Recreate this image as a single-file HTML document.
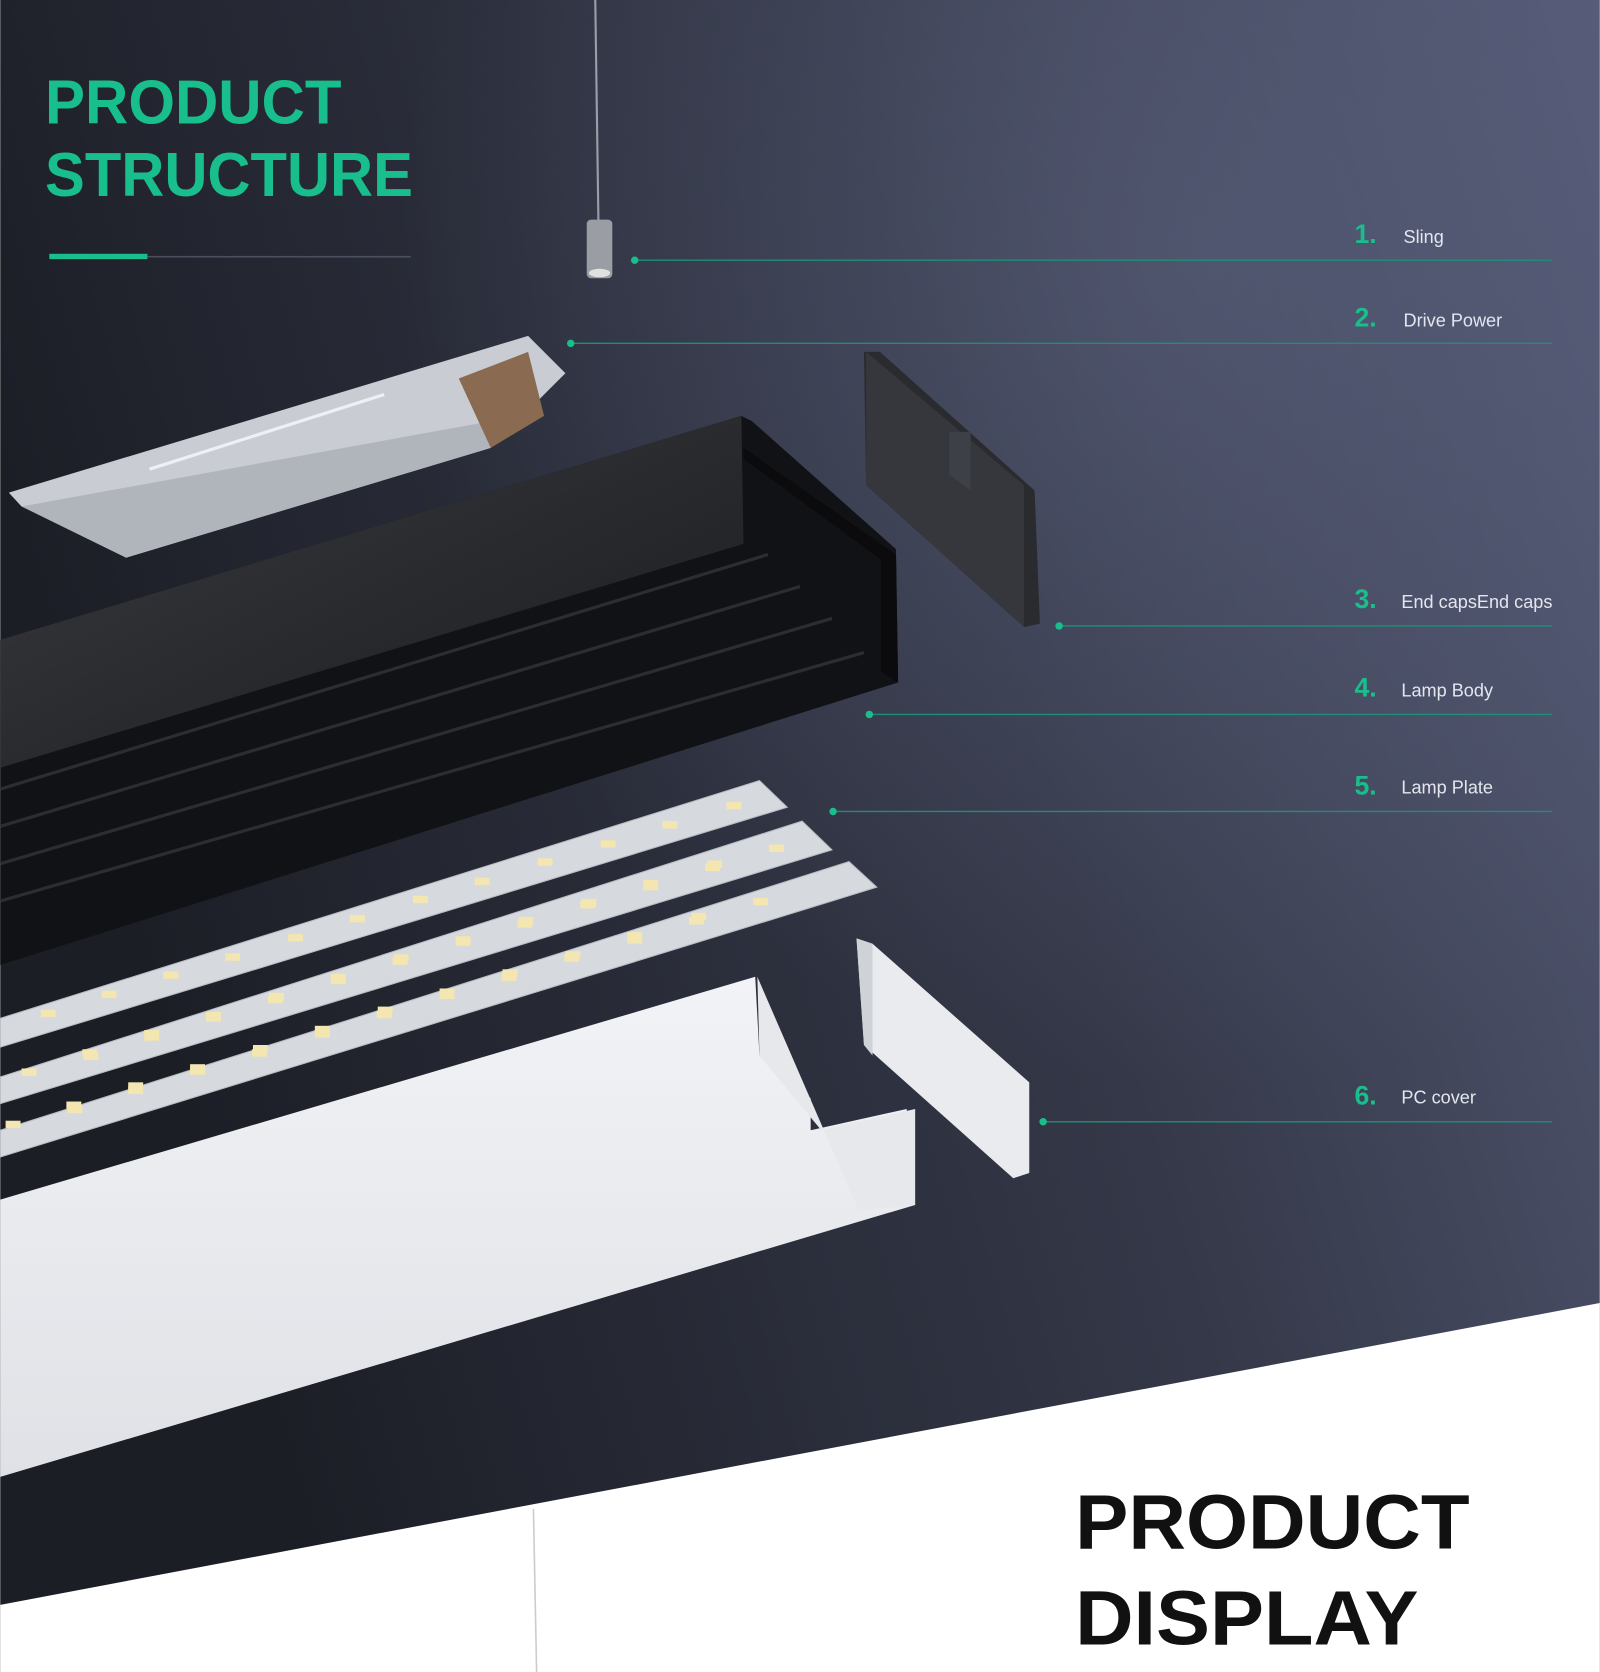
<!DOCTYPE html>
<html><head><meta charset="utf-8"><style>
html,body{margin:0;padding:0;background:#fff;}
svg{display:block;}
</style></head><body>
<svg width="1600" height="1672" viewBox="0 0 1500 1568" xmlns="http://www.w3.org/2000/svg" font-family="Liberation Sans, sans-serif">
<defs>
<linearGradient id="bg" x1="0" y1="0.3" x2="1" y2="0">
<stop offset="0" stop-color="#1c1e26"/><stop offset="0.55" stop-color="#343848"/><stop offset="1" stop-color="#565c78"/>
</linearGradient>
<radialGradient id="glow" cx="0.75" cy="0.15" r="0.5">
<stop offset="0" stop-color="#5a607c" stop-opacity="0.6"/><stop offset="1" stop-color="#5a607c" stop-opacity="0"/>
</radialGradient>
<linearGradient id="cover" x1="0" y1="0" x2="0" y2="1">
<stop offset="0" stop-color="#f2f3f6"/><stop offset="1" stop-color="#dfe1e6"/>
</linearGradient>
<linearGradient id="body" x1="0" y1="0" x2="1" y2="1">
<stop offset="0" stop-color="#3a3b40"/><stop offset="1" stop-color="#1a1b1e"/>
</linearGradient>
</defs>
<rect width="1500" height="1568" fill="url(#bg)"/>
<rect width="1500" height="1568" fill="url(#glow)"/>
<polygon points="0,1505 1500,1222 1500,1568 0,1568" fill="#ffffff"/>

<text x="42" y="116" font-size="58" font-weight="bold" fill="#18bf8c" textLength="278" lengthAdjust="spacingAndGlyphs">PRODUCT</text>
<text x="42" y="184" font-size="58" font-weight="bold" fill="#18bf8c" textLength="345" lengthAdjust="spacingAndGlyphs">STRUCTURE</text>
<rect x="46" y="238" width="92" height="5" fill="#18bf8c"/>
<rect x="138" y="240" width="247" height="1.5" fill="#4a5060"/>

<!-- sling -->
<line x1="558" y1="0" x2="561" y2="210" stroke="#9a9ea8" stroke-width="2"/>
<rect x="550" y="206" width="24" height="55" rx="4" fill="#9a9da3"/>
<ellipse cx="562" cy="256" rx="10" ry="4" fill="#e0e0e0"/>
<line x1="500" y1="1415" x2="503" y2="1568" stroke="#ccc" stroke-width="1.5"/>

<!-- labels -->
<g stroke="#1d8f78" stroke-width="1.3">
<line x1="595" y1="244" x2="1455" y2="244"/>
<line x1="535" y1="322" x2="1455" y2="322"/>
<line x1="993" y1="587" x2="1455" y2="587"/>
<line x1="815" y1="670" x2="1455" y2="670"/>
<line x1="781" y1="761" x2="1455" y2="761"/>
<line x1="978" y1="1052" x2="1455" y2="1052"/>
</g>
<g fill="#18bf8c">
<circle cx="595" cy="244" r="3.5"/><circle cx="535" cy="322" r="3.5"/><circle cx="993" cy="587" r="3.5"/>
<circle cx="815" cy="670" r="3.5"/><circle cx="781" cy="761" r="3.5"/><circle cx="978" cy="1052" r="3.5"/>
</g>
<g font-size="25" font-weight="bold" fill="#18bf8c">
<text x="1270" y="228">1.</text><text x="1270" y="306">2.</text><text x="1270" y="570">3.</text>
<text x="1270" y="653">4.</text><text x="1270" y="745">5.</text><text x="1270" y="1036">6.</text>
</g>
<g font-size="17" fill="#e4e6ee">
<text x="1316" y="228">Sling</text><text x="1316" y="306">Drive Power</text><text x="1314" y="570">End capsEnd caps</text>
<text x="1314" y="653">Lamp Body</text><text x="1314" y="744">Lamp Plate</text><text x="1314" y="1035">PC cover</text>
</g>

<!-- driver -->
<polygon points="8,462 495,315 530,350 460,420 118,523 95,500 20,475" fill="#c9ccd2"/>
<polygon points="20,475 460,395 460,420 118,523" fill="#b0b4bb"/>
<polygon points="430,355 495,330 510,390 460,420" fill="#8a6a50"/>
<line x1="140" y1="440" x2="360" y2="370" stroke="#eef0f3" stroke-width="3"/>

<!-- end cap black -->
<polygon points="810,330 825,330 970,460 975,585 960,588 812,455" fill="#2a2b2f"/>
<polygon points="812,330 960,455 960,588 812,455" fill="#36373c"/>
<polygon points="890,405 910,405 910,460 890,445" fill="#3e4048"/>

<!-- lamp body -->
<polygon points="0,600 695,390 705,395 840,515 842,640 0,905" fill="#111215"/>
<polygon points="0,600 695,390 697,510 0,720" fill="url(#body)"/>
<g stroke="#2c2d32" stroke-width="3">
<line x1="0" y1="740" x2="720" y2="520"/>
<line x1="0" y1="775" x2="750" y2="550"/>
<line x1="0" y1="810" x2="780" y2="580"/>
<line x1="0" y1="845" x2="810" y2="612"/>
</g>
<polygon points="697,420 840,520 842,640 826,630 826,525 697,430" fill="#0b0b0d"/>

<!-- LED strips -->
<g fill="#d6d9de" stroke="#b8bcc3" stroke-width="1">
<polygon points="0,955 712,732 738,757 0,982"/>
<polygon points="0,1010 752,770 780,797 0,1035"/>
<polygon points="0,1060 796,808 822,832 0,1085"/>
</g>
<g fill="#f3e6b0">
<g id="l1"><rect x="38" y="947" width="14" height="7"/><rect x="95" y="929" width="14" height="7"/><rect x="153" y="911" width="14" height="7"/><rect x="211" y="894" width="14" height="7"/><rect x="270" y="876" width="14" height="7"/><rect x="328" y="858" width="14" height="7"/><rect x="387" y="840" width="14" height="7"/><rect x="445" y="823" width="14" height="7"/><rect x="504" y="805" width="14" height="7"/><rect x="563" y="788" width="14" height="7"/><rect x="621" y="770" width="14" height="7"/><rect x="681" y="752" width="14" height="7"/></g>
<use href="#l1" transform="translate(-18,55)"/>
<use href="#l1" transform="translate(-33,104)"/>
<use href="#l1" transform="translate(40,40)"/>
<use href="#l1" transform="translate(25,90)"/>
</g>

<!-- PC cover -->
<polygon points="0,1125 708,916 712,990 760,1030 760,1060 850,1040 858,1130 0,1385" fill="url(#cover)"/>
<polygon points="710,916 712,990 770,1060 858,1040 858,1130 805,1135" fill="#e6e8ec"/>
<polygon points="803,880 818,885 965,1015 965,1100 950,1105 810,980" fill="#e9ebee"/>
<polygon points="803,880 818,885 818,990 810,980" fill="#cfd2d7"/>

<text x="1008" y="1452" font-size="72" font-weight="bold" fill="#111" textLength="370" lengthAdjust="spacingAndGlyphs">PRODUCT</text>
<text x="1008" y="1542" font-size="72" font-weight="bold" fill="#111" textLength="322" lengthAdjust="spacingAndGlyphs">DISPLAY</text>
</svg>
</body></html>
